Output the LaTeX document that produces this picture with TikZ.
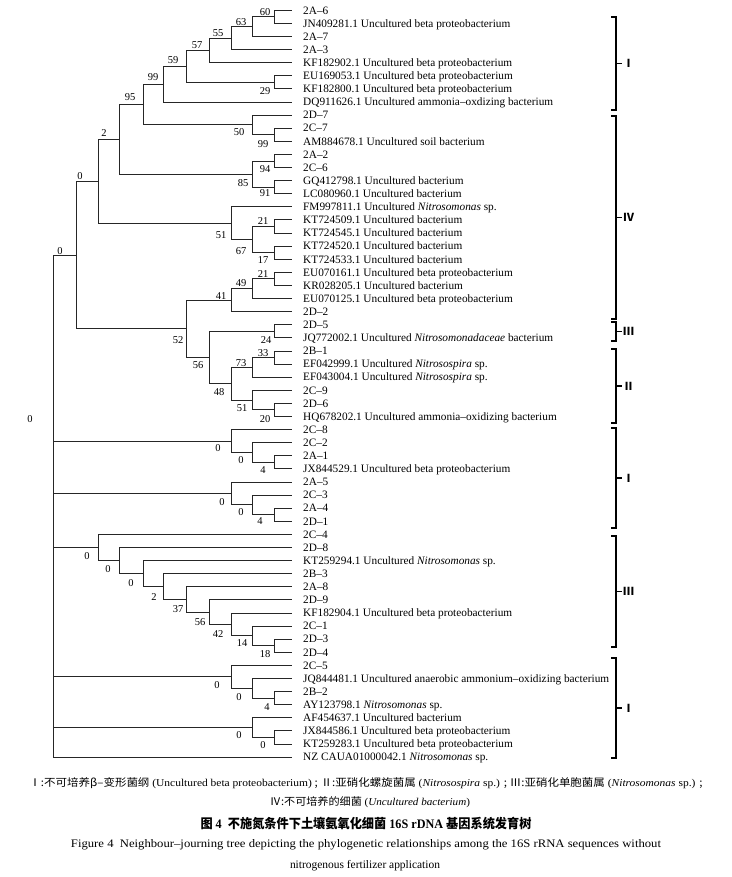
\documentclass[tikz,border=0pt]{standalone}
\usepackage{graphicx}
\usepackage{fontspec}
\setmainfont{Liberation Serif}
\newfontfamily\cjk{Noto Sans CJK SC}
\newcommand\zh[1]{{\cjk #1}}
\begin{document}
\begin{tikzpicture}[x=1pt,y=-1pt,
  br/.style={draw=black!85, line width=0.8pt},
  leaf/.style={anchor=west, inner xsep=11pt, inner ysep=0pt, text height=7.6pt, text depth=0pt, font=\fontsize{11.3}{13}\selectfont},
  bs/.style={inner sep=0pt, text height=7pt, text depth=0pt, font=\fontsize{10.5}{12}\selectfont},
  grp/.style={draw=black, line width=1.2pt},
  grplab/.style={anchor=west, inner sep=0pt, font=\cjk\bfseries\fontsize{11}{12}\selectfont},
  capn/.style={anchor=base, inner sep=0pt}
]
\useasboundingbox (0,0) rectangle (731,877);
\fill[white] (0,0) rectangle (731,877);

% ---------------- leaves ----------------
\node[leaf] (l1) at (292,10.3) {2A–6};
\node[leaf] (l2) at (292,23.4) {JN409281.1 Uncultured beta proteobacterium};
\node[leaf] (l3) at (292,36.5) {2A–7};
\node[leaf] (l4) at (292,49.6) {2A–3};
\node[leaf] (l5) at (292,62.7) {KF182902.1 Uncultured beta proteobacterium};
\node[leaf] (l6) at (292,75.8) {EU169053.1 Uncultured beta proteobacterium};
\node[leaf] (l7) at (292,88.9) {KF182800.1 Uncultured beta proteobacterium};
\node[leaf] (l8) at (292,102.0) {DQ911626.1 Uncultured ammonia–oxdizing bacterium};
\node[leaf] (l9) at (292,115.1) {2D–7};
\node[leaf] (l10) at (292,128.2) {2C–7};
\node[leaf] (l11) at (292,141.3) {AM884678.1 Uncultured soil bacterium};
\node[leaf] (l12) at (292,154.4) {2A–2};
\node[leaf] (l13) at (292,167.5) {2C–6};
\node[leaf] (l14) at (292,180.6) {GQ412798.1 Uncultured bacterium};
\node[leaf] (l15) at (292,193.7) {LC080960.1 Uncultured bacterium};
\node[leaf] (l16) at (292,206.8) {FM997811.1 Uncultured \textit{Nitrosomonas} sp.};
\node[leaf] (l17) at (292,219.9) {KT724509.1 Uncultured bacterium};
\node[leaf] (l18) at (292,233.0) {KT724545.1 Uncultured bacterium};
\node[leaf] (l19) at (292,246.1) {KT724520.1 Uncultured bacterium};
\node[leaf] (l20) at (292,259.2) {KT724533.1 Uncultured bacterium};
\node[leaf] (l21) at (292,272.3) {EU070161.1 Uncultured beta proteobacterium};
\node[leaf] (l22) at (292,285.4) {KR028205.1 Uncultured bacterium};
\node[leaf] (l23) at (292,298.5) {EU070125.1 Uncultured beta proteobacterium};
\node[leaf] (l24) at (292,311.6) {2D–2};
\node[leaf] (l25) at (292,324.7) {2D–5};
\node[leaf] (l26) at (292,337.8) {JQ772002.1 Uncultured \textit{Nitrosomonadaceae} bacterium};
\node[leaf] (l27) at (292,350.9) {2B–1};
\node[leaf] (l28) at (292,364.0) {EF042999.1 Uncultured \textit{Nitrosospira} sp.};
\node[leaf] (l29) at (292,377.1) {EF043004.1 Uncultured \textit{Nitrosospira} sp.};
\node[leaf] (l30) at (292,390.2) {2C–9};
\node[leaf] (l31) at (292,403.3) {2D–6};
\node[leaf] (l32) at (292,416.4) {HQ678202.1 Uncultured ammonia–oxidizing bacterium};
\node[leaf] (l33) at (292,429.5) {2C–8};
\node[leaf] (l34) at (292,442.6) {2C–2};
\node[leaf] (l35) at (292,455.7) {2A–1};
\node[leaf] (l36) at (292,468.8) {JX844529.1 Uncultured beta proteobacterium};
\node[leaf] (l37) at (292,481.9) {2A–5};
\node[leaf] (l38) at (292,495.0) {2C–3};
\node[leaf] (l39) at (292,508.1) {2A–4};
\node[leaf] (l40) at (292,521.2) {2D–1};
\node[leaf] (l41) at (292,534.3) {2C–4};
\node[leaf] (l42) at (292,547.4) {2D–8};
\node[leaf] (l43) at (292,560.5) {KT259294.1 Uncultured \textit{Nitrosomonas} sp.};
\node[leaf] (l44) at (292,573.6) {2B–3};
\node[leaf] (l45) at (292,586.7) {2A–8};
\node[leaf] (l46) at (292,599.8) {2D–9};
\node[leaf] (l47) at (292,612.9) {KF182904.1 Uncultured beta proteobacterium};
\node[leaf] (l48) at (292,626.0) {2C–1};
\node[leaf] (l49) at (292,639.1) {2D–3};
\node[leaf] (l50) at (292,652.2) {2D–4};
\node[leaf] (l51) at (292,665.3) {2C–5};
\node[leaf] (l52) at (292,678.4) {JQ844481.1 Uncultured anaerobic ammonium–oxidizing bacterium};
\node[leaf] (l53) at (292,691.5) {2B–2};
\node[leaf] (l54) at (292,704.6) {AY123798.1 \textit{Nitrosomonas} sp.};
\node[leaf] (l55) at (292,717.7) {AF454637.1 Uncultured bacterium};
\node[leaf] (l56) at (292,730.8) {JX844586.1 Uncultured beta proteobacterium};
\node[leaf] (l57) at (292,743.9) {KT259283.1 Uncultured beta proteobacterium};
\node[leaf] (l58) at (292,757.0) {NZ CAUA01000042.1 \textit{Nitrosomonas} sp.};

% ---------------- internal nodes ----------------
\coordinate (n60) at (274,16.85);
\coordinate (n63) at (252,26.7);
\coordinate (n55) at (231,38.1);
\coordinate (n57) at (209,50.4);
\coordinate (n29) at (274,82.35);
\coordinate (n59) at (186,66.4);
\coordinate (n99) at (163,84.2);
\coordinate (n99b) at (274,134.75);
\coordinate (n50) at (252,124.9);
\coordinate (n95) at (143,104.6);
\coordinate (n94) at (274,160.95);
\coordinate (n91) at (274,187.15);
\coordinate (n85) at (252,174.05);
\coordinate (n2) at (119,139.3);
\coordinate (n21) at (274,226.45);
\coordinate (n17) at (274,252.65);
\coordinate (n67) at (252,239.55);
\coordinate (n51) at (231,223.2);
\coordinate (n0a) at (98,181.25);
\coordinate (n21b) at (274,278.85);
\coordinate (n49) at (252,288.7);
\coordinate (n41) at (231,300.15);
\coordinate (n24) at (274,331.25);
\coordinate (n33) at (274,357.45);
\coordinate (n73) at (252,367.3);
\coordinate (n20) at (274,409.85);
\coordinate (n51b) at (252,400.0);
\coordinate (n48) at (231,383.65);
\coordinate (n56) at (209,357.45);
\coordinate (n52) at (186,328.8);
\coordinate (n0b) at (76,255.0);
\coordinate (n4a) at (274,462.25);
\coordinate (n0c2) at (252,452.4);
\coordinate (n0c) at (231,440.95);
\coordinate (n4b) at (274,514.65);
\coordinate (n0d2) at (252,504.8);
\coordinate (n0d) at (231,493.35);
\coordinate (n18) at (274,645.65);
\coordinate (n14) at (252,635.8);
\coordinate (n42) at (231,624.35);
\coordinate (n56b) at (209,612.1);
\coordinate (n37) at (186,599.4);
\coordinate (n2b) at (163,586.5);
\coordinate (n0e3) at (143,573.5);
\coordinate (n0e2) at (119,560.45);
\coordinate (n0e) at (98,547.4);
\coordinate (n4c) at (274,698.05);
\coordinate (n0f2) at (252,688.2);
\coordinate (n0f) at (231,676.75);
\coordinate (n0g2) at (274,737.35);
\coordinate (n0g) at (252,727.5);
\coordinate (root) at (53,425);

% ---------------- branches ----------------
\draw[br] (n60) |- (l1.west) (n60) |- (l2.west);
\draw[br] (n63) |- (n60) (n63) |- (l3.west);
\draw[br] (n55) |- (n63) (n55) |- (l4.west);
\draw[br] (n57) |- (n55) (n57) |- (l5.west);
\draw[br] (n29) |- (l6.west) (n29) |- (l7.west);
\draw[br] (n59) |- (n57) (n59) |- (n29);
\draw[br] (n99) |- (n59) (n99) |- (l8.west);
\draw[br] (n99b) |- (l10.west) (n99b) |- (l11.west);
\draw[br] (n50) |- (l9.west) (n50) |- (n99b);
\draw[br] (n95) |- (n99) (n95) |- (n50);
\draw[br] (n94) |- (l12.west) (n94) |- (l13.west);
\draw[br] (n91) |- (l14.west) (n91) |- (l15.west);
\draw[br] (n85) |- (n94) (n85) |- (n91);
\draw[br] (n2) |- (n95) (n2) |- (n85);
\draw[br] (n21) |- (l17.west) (n21) |- (l18.west);
\draw[br] (n17) |- (l19.west) (n17) |- (l20.west);
\draw[br] (n67) |- (n21) (n67) |- (n17);
\draw[br] (n51) |- (l16.west) (n51) |- (n67);
\draw[br] (n0a) |- (n2) (n0a) |- (n51);
\draw[br] (n21b) |- (l21.west) (n21b) |- (l22.west);
\draw[br] (n49) |- (n21b) (n49) |- (l23.west);
\draw[br] (n41) |- (n49) (n41) |- (l24.west);
\draw[br] (n24) |- (l25.west) (n24) |- (l26.west);
\draw[br] (n33) |- (l27.west) (n33) |- (l28.west);
\draw[br] (n73) |- (n33) (n73) |- (l29.west);
\draw[br] (n20) |- (l31.west) (n20) |- (l32.west);
\draw[br] (n51b) |- (l30.west) (n51b) |- (n20);
\draw[br] (n48) |- (n73) (n48) |- (n51b);
\draw[br] (n56) |- (n24) (n56) |- (n48);
\draw[br] (n52) |- (n41) (n52) |- (n56);
\draw[br] (n0b) |- (n0a) (n0b) |- (n52);
\draw[br] (n4a) |- (l35.west) (n4a) |- (l36.west);
\draw[br] (n0c2) |- (l34.west) (n0c2) |- (n4a);
\draw[br] (n0c) |- (l33.west) (n0c) |- (n0c2);
\draw[br] (n4b) |- (l39.west) (n4b) |- (l40.west);
\draw[br] (n0d2) |- (l38.west) (n0d2) |- (n4b);
\draw[br] (n0d) |- (l37.west) (n0d) |- (n0d2);
\draw[br] (n18) |- (l49.west) (n18) |- (l50.west);
\draw[br] (n14) |- (l48.west) (n14) |- (n18);
\draw[br] (n42) |- (l47.west) (n42) |- (n14);
\draw[br] (n56b) |- (l46.west) (n56b) |- (n42);
\draw[br] (n37) |- (l45.west) (n37) |- (n56b);
\draw[br] (n2b) |- (l44.west) (n2b) |- (n37);
\draw[br] (n0e3) |- (l43.west) (n0e3) |- (n2b);
\draw[br] (n0e2) |- (l42.west) (n0e2) |- (n0e3);
\draw[br] (n0e) |- (l41.west) (n0e) |- (n0e2);
\draw[br] (n4c) |- (l53.west) (n4c) |- (l54.west);
\draw[br] (n0f2) |- (l52.west) (n0f2) |- (n4c);
\draw[br] (n0f) |- (l51.west) (n0f) |- (n0f2);
\draw[br] (n0g2) |- (l56.west) (n0g2) |- (l57.west);
\draw[br] (n0g) |- (l55.west) (n0g) |- (n0g2);
\draw[br] (root) |- (n0b) (root) |- (n0c) (root) |- (n0d) (root) |- (n0e)
          (root) |- (n0f) (root) |- (n0g) (root) |- (l58.west);

% ---------------- bootstrap values ----------------
\node[bs] (b60) at (265,12) {60};
\node[bs] (b63) at (241,22) {63};
\node[bs] (b55) at (218,33) {55};
\node[bs] (b57) at (197,45) {57};
\node[bs] (b59) at (173,60) {59};
\node[bs] (b99) at (153,77) {99};
\node[bs] (b95) at (130,97) {95};
\node[bs] (b29) at (265,91) {29};
\node[bs] (b2) at (104,133) {2};
\node[bs] (b50) at (239,132) {50};
\node[bs] (b99b) at (263,144) {99};
\node[bs] (b0a) at (80,176) {0};
\node[bs] (b94) at (265,169) {94};
\node[bs] (b85) at (243,183) {85};
\node[bs] (b91) at (265,193) {91};
\node[bs] (b0b) at (60,251) {0};
\node[bs] (b21) at (263,221) {21};
\node[bs] (b51) at (221,235) {51};
\node[bs] (b67) at (241,251) {67};
\node[bs] (b17) at (263,260) {17};
\node[bs] (b21b) at (263,274) {21};
\node[bs] (b49) at (241,283) {49};
\node[bs] (b41) at (221,296) {41};
\node[bs] (b52) at (178,340) {52};
\node[bs] (b24) at (266,340) {24};
\node[bs] (b33) at (263,353) {33};
\node[bs] (b73) at (241,363) {73};
\node[bs] (b56) at (198,365) {56};
\node[bs] (b48) at (219,392) {48};
\node[bs] (b51b) at (242,408) {51};
\node[bs] (b20) at (265,419) {20};
\node[bs] (broot) at (30,419) {0};
\node[bs] (b0c) at (218,448) {0};
\node[bs] (b0c2) at (241,460) {0};
\node[bs] (b4a) at (263,470) {4};
\node[bs] (b0d) at (222,502) {0};
\node[bs] (b0d2) at (241,512) {0};
\node[bs] (b4b) at (260,521) {4};
\node[bs] (b0e) at (87,556) {0};
\node[bs] (b0e2) at (108,569) {0};
\node[bs] (b0e3) at (131,583) {0};
\node[bs] (b2b) at (154,597) {2};
\node[bs] (b37) at (178,609) {37};
\node[bs] (b56b) at (200,622) {56};
\node[bs] (b42) at (218,634) {42};
\node[bs] (b14) at (242,643) {14};
\node[bs] (b18) at (265,654) {18};
\node[bs] (b0f) at (217,685) {0};
\node[bs] (b0f2) at (239,697) {0};
\node[bs] (b4c) at (267,707) {4};
\node[bs] (b0g) at (239,735) {0};
\node[bs] (b0g2) at (263,745) {0};

% ---------------- group brackets ----------------
\draw[grp] (611,17) -- (616,17) -- (616,110) -- (611,110) (616,63.5) -- (622,63.5);
\node[grplab] (g1) at (623,63.5) {Ⅰ};
\draw[grp] (611,116) -- (616,116) -- (616,319) -- (611,319) (616,217.5) -- (622,217.5);
\node[grplab] (g2) at (623,217.5) {Ⅳ};
\draw[grp] (611,322) -- (616,322) -- (616,341) -- (611,341) (616,331.5) -- (622,331.5);
\node[grplab] (g3) at (623,331.5) {Ⅲ};
\draw[grp] (611,349) -- (616,349) -- (616,423) -- (611,423) (616,386) -- (622,386);
\node[grplab] (g4) at (623,386) {Ⅱ};
\draw[grp] (611,428) -- (616,428) -- (616,528) -- (611,528) (616,478) -- (622,478);
\node[grplab] (g5) at (623,478) {Ⅰ};
\draw[grp] (611,536) -- (616,536) -- (616,647) -- (611,647) (616,591.5) -- (622,591.5);
\node[grplab] (g6) at (623,591.5) {Ⅲ};
\draw[grp] (611,658) -- (616,658) -- (616,758) -- (611,758) (616,708) -- (622,708);
\node[grplab] (g7) at (623,708) {Ⅰ};

% ---------------- caption ----------------
\node[capn] (c1) at (366,786) {\resizebox{673pt}{\height}{\fontsize{10.5}{12}\selectfont\zh{Ⅰ:不可培养β–变形菌纲} (Uncultured beta proteobacterium) \zh{;} \zh{Ⅱ:亚硝化螺旋菌属} (\textit{Nitrosospira} sp.) \zh{;} \zh{Ⅲ:亚硝化单胞菌属} (\textit{Nitrosomonas} sp.) \zh{;}}};
\node[capn] (c2) at (370,805) {\resizebox{200pt}{\height}{\fontsize{10.5}{12}\selectfont\zh{Ⅳ:不可培养的细菌} (\textit{Uncultured bacterium})}};
\node[capn] (c3) at (366,828) {\resizebox{331pt}{\height}{\fontsize{13}{15}\selectfont\bfseries\zh{图} 4 \ \zh{不施氮条件下土壤氨氧化细菌} 16S rDNA \zh{基因系统发育树}}};
\node[capn] (c4) at (366,847) {\resizebox{590pt}{\height}{\fontsize{11.5}{13}\selectfont Figure 4 \ Neighbour–journing tree depicting the phylogenetic relationships among the 16S rRNA sequences without}};
\node[capn] (c5) at (365,868) {\resizebox{150pt}{\height}{\fontsize{11.5}{13}\selectfont nitrogenous fertilizer application}};
\end{tikzpicture}
\end{document}
